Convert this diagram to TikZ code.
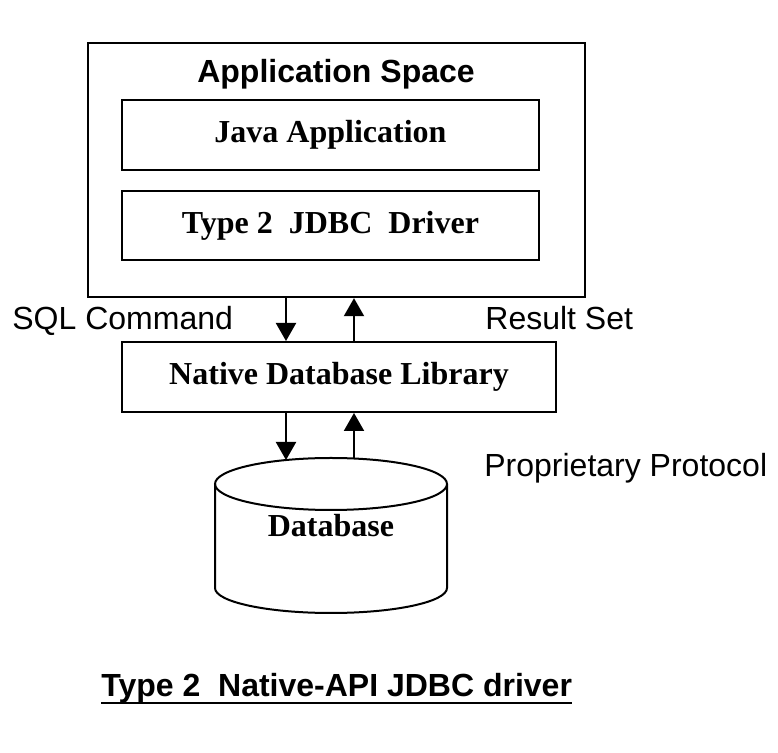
\documentclass[tikz,border=0pt]{standalone}
\usepackage{fontspec}
\setmainfont{Liberation Serif}
\setsansfont{Liberation Sans}
\usetikzlibrary{arrows.meta}

\tikzset{
	layer/.style={draw, line width=1pt, inner sep=0pt, font=\fontsize{16}{19}\selectfont\bfseries},
	sidetext/.style={anchor=base west, inner sep=0pt, font=\fontsize{16}{19}\selectfont\sffamily},
	flow/.style={line width=1pt, -{Triangle[length=9pt, width=10pt]}}
}

\begin{document}
\begin{tikzpicture}[x=0.5pt, y=0.5pt]
	\useasboundingbox (0,0) rectangle (778,-753);

	% Boxes
	\node[layer, line width=1.2pt, minimum width=248.5pt, minimum height=127pt] (app) at (336.5,-170) {};
	\node[anchor=base, inner sep=0pt, font=\fontsize{16}{19}\selectfont\sffamily\bfseries] (appspace) at (336,-83) {Application Space};
	\node[layer, minimum width=208.5pt, minimum height=35pt] (java) at (330.5,-135) {Java Application};
	\node[layer, minimum width=208.5pt, minimum height=34.5pt] (drv) at (330.5,-225.5) {Type 2\ \ JDBC\ \ Driver};
	\node[layer, minimum width=217pt, minimum height=35pt] (nat) at (339,-377) {Native Database Library};

	% Database cylinder
	\draw[line width=1pt] (215,-484) -- (215,-588) arc[start angle=180, end angle=360, x radius=116, y radius=25] -- (447,-484);
	\draw[line width=1pt] (331,-484) ellipse [x radius=116, y radius=26];
	\node[anchor=base, inner sep=0pt, font=\fontsize{16}{19}\selectfont\bfseries] (db) at (331,-537) {Database};
	\coordinate (dbin) at (286,-460);
	\coordinate (dbout) at (354,-458.5);

	% Labels
	\node[sidetext] (sql) at (12,-330) {SQL Command};
	\node[sidetext] (res) at (485,-330) {Result Set};
	\node[sidetext] (prot) at (484,-477) {Proprietary Protocol};

	% Arrows
	\coordinate (sqlx) at (286,0);
	\coordinate (resx) at (354,0);
	\draw[flow] (app.south -| sqlx) -- (nat.north -| sqlx);
	\draw[flow] (nat.north -| resx) -- (app.south -| resx);
	\draw[flow] (nat.south -| sqlx) -- (dbin);
	\draw[flow] (dbout) -- (nat.south -| resx);

	% Caption
	\node[sidetext, font=\fontsize{16}{19}\selectfont\sffamily\bfseries] (title) at (101,-697) {Type 2\ \ Native-API JDBC driver};
	\draw[line width=1.2pt] ([yshift=-3pt]title.base west) -- ([yshift=-3pt]title.base east);
\end{tikzpicture}
\end{document}
